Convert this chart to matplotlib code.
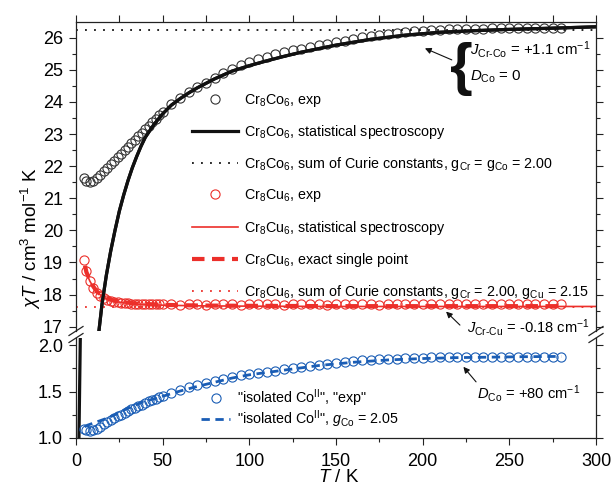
import matplotlib
matplotlib.use('Agg')
import matplotlib.pyplot as plt
from matplotlib.lines import Line2D
from matplotlib.ticker import MultipleLocator, FormatStrFormatter

plt.rcParams['font.family'] = ['Liberation Sans', 'DejaVu Sans']
plt.rcParams['mathtext.fontset'] = 'custom'
plt.rcParams['mathtext.rm'] = 'Liberation Sans'
plt.rcParams['mathtext.it'] = 'Liberation Sans:italic'
plt.rcParams['mathtext.bf'] = 'Liberation Sans:bold'

# ---------------- data ----------------
T_exp = [4.6, 6, 8, 10, 12, 14, 16, 18, 20, 22, 24, 26, 28, 30, 32, 34, 36, 38, 40, 42,
         44, 46, 48, 50, 55, 60, 65, 70, 75, 80, 85, 90, 95, 100, 105, 110, 115, 120,
         125, 130, 135, 140, 145, 150, 155, 160, 165, 170, 175, 180, 185, 190, 195, 200,
         205, 210, 215, 220, 225, 230, 235, 240, 245, 250, 255, 260, 265, 270, 275, 280]

co_exp = [21.62, 21.55, 21.52, 21.54, 21.62, 21.72, 21.84, 21.95, 22.06, 22.17, 22.28, 22.39,
          22.49, 22.60, 22.71, 22.82, 22.93, 23.04, 23.15, 23.26, 23.37, 23.48, 23.59, 23.70,
          23.94, 24.13, 24.30, 24.45, 24.60, 24.76, 24.90, 25.03, 25.15, 25.25, 25.33, 25.41,
          25.49, 25.56, 25.61, 25.65, 25.71, 25.76, 25.81, 25.86, 25.91, 25.96, 26.01, 26.05,
          26.09, 26.13, 26.16, 26.18, 26.20, 26.22, 26.24, 26.25, 26.26, 26.27, 26.28, 26.28,
          26.28, 26.29, 26.29, 26.29, 26.29, 26.29, 26.29, 26.29, 26.29, 26.29]

cu_exp = [19.07, 18.72, 18.42, 18.22, 18.06, 17.96, 17.88, 17.83, 17.80, 17.78, 17.76, 17.75,
          17.74, 17.73, 17.72, 17.72, 17.71, 17.71, 17.71, 17.70, 17.70, 17.70, 17.70, 17.70,
          17.70, 17.69, 17.70, 17.70, 17.69, 17.70, 17.70, 17.70, 17.69, 17.70, 17.70, 17.70,
          17.70, 17.69, 17.70, 17.70, 17.70, 17.70, 17.69, 17.70, 17.70, 17.70, 17.70, 17.70,
          17.69, 17.70, 17.70, 17.70, 17.70, 17.70, 17.70, 17.70, 17.70, 17.70, 17.70, 17.70,
          17.70, 17.70, 17.70, 17.70, 17.70, 17.70, 17.70, 17.70, 17.70, 17.70]

coiso_exp = [1.100, 1.090, 1.080, 1.085, 1.095, 1.120, 1.150, 1.175, 1.195, 1.215, 1.235, 1.250,
             1.270, 1.290, 1.310, 1.325, 1.345, 1.360, 1.380, 1.395, 1.410, 1.425, 1.440, 1.450,
             1.485, 1.515, 1.545, 1.570, 1.590, 1.615, 1.635, 1.660, 1.675, 1.690, 1.700, 1.710,
             1.725, 1.740, 1.750, 1.760, 1.770, 1.785, 1.795, 1.805, 1.815, 1.825, 1.835, 1.840,
             1.845, 1.850, 1.855, 1.860, 1.862, 1.865, 1.867, 1.868, 1.869, 1.870, 1.870, 1.871,
             1.872, 1.873, 1.874, 1.874, 1.874, 1.875, 1.874, 1.874, 1.872, 1.870]

co_fit_T = [1.7, 2.5, 5, 8, 11, 13.3, 15, 17.5, 20, 22.5, 25, 27.5, 30, 32.5, 35, 37.5, 40,
            45, 50, 55, 60, 65, 70, 80, 90, 100, 110, 120, 130, 150, 170, 190, 210, 230,
            250, 270, 300]
co_fit = [1.0, 2.1, 8.0, 12.5, 15.5, 16.9, 17.7, 18.6, 19.35, 20.0, 20.6, 21.1, 21.55, 21.95,
          22.3, 22.62, 22.9, 23.3, 23.63, 23.9, 24.1, 24.28, 24.44, 24.72, 24.96, 25.13,
          25.28, 25.42, 25.55, 25.77, 25.95, 26.08, 26.17, 26.22, 26.26, 26.29, 26.34]

cu_fit_T = [5, 6, 8, 10, 12, 15, 18, 22, 28, 35, 50, 70, 100, 150, 200, 250, 300]
cu_fit = [18.85, 18.66, 18.42, 18.23, 18.08, 17.95, 17.86, 17.79, 17.74, 17.70, 17.67, 17.65,
          17.64, 17.63, 17.63, 17.63, 17.63]

cu_exact_T = [5.2, 6, 8, 10, 12, 15, 18, 22, 28, 35, 50, 70, 100, 150, 200, 250, 280]
cu_exact = [18.90, 18.70, 18.45, 18.25, 18.10, 17.97, 17.88, 17.81, 17.76, 17.72, 17.68,
            17.66, 17.65, 17.64, 17.64, 17.64, 17.64]

coiso_fit_T = [5, 6.5, 10, 13, 16, 19.6, 23, 26.4, 30, 35, 39, 45.6, 52, 60, 65, 70, 80, 90,
               100, 120, 140, 160, 180, 200, 220, 240, 260, 280]
coiso_fit = [1.12, 1.137, 1.16, 1.18, 1.20, 1.227, 1.255, 1.29, 1.32, 1.36, 1.39, 1.425, 1.46,
             1.505, 1.53, 1.555, 1.60, 1.645, 1.68, 1.73, 1.78, 1.815, 1.84, 1.855, 1.865,
             1.87, 1.875, 1.878]

T_range = [0, 300]
co_curie = 26.25
cu_curie = 17.60

legend_top = [r"Cr$_8$Co$_6$, exp",
              r"Cr$_8$Co$_6$, statistical spectroscopy",
              r"Cr$_8$Co$_6$, sum of Curie constants, g$_{\mathrm{Cr}}$ = g$_{\mathrm{Co}}$ = 2.00",
              r"Cr$_8$Cu$_6$, exp",
              r"Cr$_8$Cu$_6$, statistical spectroscopy",
              r"Cr$_8$Cu$_6$, exact single point",
              r"Cr$_8$Cu$_6$, sum of Curie constants, g$_{\mathrm{Cr}}$ = 2.00, g$_{\mathrm{Cu}}$ = 2.15"]
legend_bot = [r'"isolated Co$^{\mathrm{II}}$", "exp"',
              r'"isolated Co$^{\mathrm{II}}$", $g_{\mathrm{Co}}$ = 2.05']

# ---------------- style ----------------
RED = '#ec2f2a'
BLUE = '#1a5db5'
BLACK = '#111111'
W, H = 614, 491

fig = plt.figure(figsize=(W / 100, H / 100), dpi=100)

def fx(px):
    return px / W

def fy(py):
    return 1 - py / H

ax_t = fig.add_axes([fx(76), fy(331), fx(596) - fx(76), fy(22) - fy(331)])
ax_b = fig.add_axes([fx(76), fy(438), fx(596) - fx(76), fy(338) - fy(438)])

ms = 6.6
mew = 0.8

# top axes
lco_exp, = ax_t.plot(T_exp, co_exp, 'o', mfc='none', mec='#333333', ms=ms, mew=mew)
lco_fit, = ax_t.plot(co_fit_T, co_fit, '-', color=BLACK, lw=2.3)
lco_cur, = ax_t.plot(T_range, [co_curie, co_curie], color=BLACK, lw=1.3, ls=(0, (1, 4)))
lcu_cur, = ax_t.plot(T_range, [cu_curie, cu_curie], color=RED, lw=1.3, ls=(0, (1, 4)))
lcu_exp, = ax_t.plot(T_exp, cu_exp, 'o', mfc='none', mec=RED, ms=ms, mew=mew)
lcu_fit, = ax_t.plot(cu_fit_T, cu_fit, '-', color=RED, lw=1.2)
lcu_exa, = ax_t.plot(cu_exact_T, cu_exact, color=RED, lw=3.0, ls=(0, (3, 1.8)))
ax_t.plot(co_fit_T, co_fit, '-', color=BLACK, lw=2.3)

# bottom axes
ax_b.plot(co_fit_T, co_fit, '-', color=BLACK, lw=2.3)
lbi_exp, = ax_b.plot(T_exp, coiso_exp, 'o', mfc='none', mec=BLUE, ms=ms, mew=mew)
lbi_fit, = ax_b.plot(coiso_fit_T, coiso_fit, color=BLUE, lw=2.0, ls=(0, (3, 2)))

ax_t.set_xlim(0, 300)
ax_b.set_xlim(0, 300)
ax_t.set_ylim(16.866, 26.49)
ax_b.set_ylim(1.0, 2.076)

for ax in (ax_t, ax_b):
    for s in ax.spines.values():
        s.set_linewidth(0.9)
        s.set_color('#222222')
    ax.xaxis.set_major_locator(MultipleLocator(50))
    ax.xaxis.set_minor_locator(MultipleLocator(25))
    ax.tick_params(which='both', direction='out', width=0.8, color='#222222',
                   labelsize=13, right=True)
    ax.tick_params(which='major', length=5)
    ax.tick_params(which='minor', length=3.2)
    ax.tick_params(axis='y', pad=4.5)
    ax.tick_params(axis='x', pad=5.5)

ax_t.spines['bottom'].set_visible(False)
ax_b.spines['top'].set_visible(False)
ax_t.tick_params(axis='x', which='both', bottom=False, labelbottom=False, top=True,
                 labeltop=False)
ax_t.tick_params(axis='x', which='minor', length=5)
ax_b.tick_params(axis='x', which='both', top=False)
ax_t.yaxis.set_major_locator(MultipleLocator(1))
ax_t.yaxis.set_minor_locator(MultipleLocator(0.5))
ax_b.yaxis.set_major_locator(MultipleLocator(0.5))
ax_b.yaxis.set_minor_locator(MultipleLocator(0.25))
ax_b.yaxis.set_major_formatter(FormatStrFormatter('%.1f'))

# break marks
for (x0, y0) in [(76, 331), (76, 338), (596, 331), (596, 338)]:
    fig.add_artist(Line2D([fx(x0 - 7), fx(x0 + 7)], [fy(y0 + 4.5), fy(y0 - 4.5)],
                          color='#222222', lw=0.9, transform=fig.transFigure))

# axis labels
fig.text(fx(31), fy(238), r"$\chi T$ / cm$^3$ mol$^{-1}$ K", rotation=90,
         ha='center', va='center', fontsize=13.5)
fig.text(fx(339), fy(478), r"$T$ / K", ha='center', va='center', fontsize=13.5)

# legends
leg1 = ax_t.legend([lco_exp, lco_fit, lco_cur, lcu_exp, lcu_fit, lcu_exa, lcu_cur], legend_top,
                   loc='upper left', bbox_to_anchor=(fx(192), fy(92)),
                   bbox_transform=fig.transFigure, frameon=False, fontsize=10.3,
                   handlelength=3.2, handletextpad=0.42, labelspacing=0.99,
                   borderpad=0, borderaxespad=0, numpoints=1)
leg2 = ax_b.legend([lbi_exp, lbi_fit], legend_bot, loc='upper left',
                   bbox_to_anchor=(fx(201), fy(387)), bbox_transform=fig.transFigure,
                   frameon=False, fontsize=10.3, handlelength=2.05, handletextpad=0.5,
                   labelspacing=-0.03, borderpad=0, borderaxespad=0, numpoints=1)

# annotations
ax_t.annotate('', xy=(201.3, 25.67), xytext=(216.8, 25.31),
              arrowprops=dict(arrowstyle='-|>', lw=0.8, color=BLACK, mutation_scale=9,
                              shrinkA=0, shrinkB=0))
fig.text(fx(461), fy(69), '{', fontsize=42, fontweight='bold', ha='center', va='center',
         color=BLACK)
ax_t.text(227.3, 25.62, r"$J_{\mathrm{Cr\text{-}Co}}$ = +1.1 cm$^{-1}$", fontsize=10.8,
          ha='left', va='center')
ax_t.text(227.3, 24.78, r"$D_{\mathrm{Co}}$ = 0", fontsize=10.8, ha='left', va='center')

ax_t.annotate('', xy=(213.5, 17.47), xytext=(221.5, 17.05),
              arrowprops=dict(arrowstyle='-|>', lw=0.8, color=BLACK, mutation_scale=9,
                              shrinkA=0, shrinkB=0))
ax_t.text(225.4, 16.96, r"$J_{\mathrm{Cr\text{-}Cu}}$ = -0.18 cm$^{-1}$", fontsize=10.6,
          ha='left', va='center', clip_on=False)

ax_b.annotate('', xy=(223.5, 1.766), xytext=(230.8, 1.604),
              arrowprops=dict(arrowstyle='-|>', lw=0.8, color=BLACK, mutation_scale=9,
                              shrinkA=0, shrinkB=0))
ax_b.text(231.2, 1.479, r"$D_{\mathrm{Co}}$ = +80 cm$^{-1}$", fontsize=10.6, ha='left',
          va='center')

fig.savefig('out.png', dpi=100)
